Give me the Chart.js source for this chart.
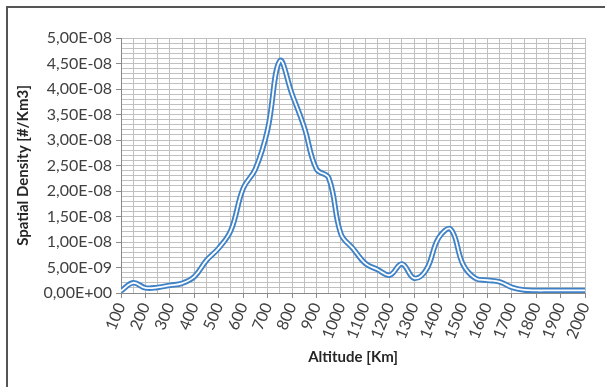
<!DOCTYPE html>
<html><head><meta charset="utf-8">
<script src="https://cdn.jsdelivr.net/npm/chart.js@4.4.1/dist/chart.umd.min.js"></script>
<style>html,body{margin:0;padding:0;background:#fff}#wrap{position:relative;width:605px;height:387px}</style>
</head><body><div id="wrap"><canvas id="c" width="605" height="387"></canvas></div>
<script>
const altitudes = [100,150,200,250,300,350,400,450,500,550,600,650,700,750,800,850,900,950,1000,1050,1100,1150,1200,1250,1300,1350,1400,1450,1500,1550,1600,1650,1700,1750,1800,1850,1900,1950,2000];
const densities = [0.4e-9,2.0e-9,1.0e-9,1.1e-9,1.5e-9,1.9e-9,3.2e-9,6.4e-9,8.8e-9,12.3e-9,20.5e-9,24.3e-9,32.0e-9,45.5e-9,39.0e-9,32.5e-9,24.3e-9,22.6e-9,11.6e-9,8.7e-9,5.8e-9,4.6e-9,3.5e-9,5.7e-9,2.9e-9,4.6e-9,10.8e-9,12.5e-9,5.6e-9,2.9e-9,2.5e-9,2.2e-9,1.1e-9,0.6e-9,0.5e-9,0.5e-9,0.5e-9,0.5e-9,0.5e-9];
const xTickLabels = ['100','200','300','400','500','600','700','800','900','1000','1100','1200','1300','1400','1500','1600','1700','1800','1900','2000'];
const yTickLabels = ['0,00E+00','5,00E-09','1,00E-08','1,50E-08','2,00E-08','2,50E-08','3,00E-08','3,50E-08','4,00E-08','4,50E-08','5,00E-08'];

const points = altitudes.map((a, i) => ({x: a, y: densities[i]}));
const FONT = 'Lato';
const TXT = '#404040';

const framePlugin = {
  id: 'frame',
  beforeDraw(chart) {
    const ctx = chart.ctx;
    ctx.save();
    ctx.fillStyle = '#fff';
    ctx.fillRect(0, 0, chart.width, chart.height);
    ctx.strokeStyle = '#555';
    ctx.lineWidth = 2;
    ctx.beginPath();
    ctx.moveTo(7, chart.height);
    ctx.lineTo(7, 7);
    ctx.lineTo(chart.width, 7);
    ctx.stroke();
    ctx.restore();
  }
};

new Chart(document.getElementById('c'), {
  type: 'line',
  data: {
    datasets: [
      {data: points, borderColor: '#ffffff', borderWidth: 1.8, tension: 0.4, pointRadius: 0, fill: false},
      {data: points, borderColor: '#3f82c8', borderWidth: 5.5, tension: 0.4, pointRadius: 0, fill: false}
    ]
  },
  options: {
    responsive: false,
    animation: false,
    devicePixelRatio: 1,
    layout: {padding: {left: 14, top: 38, right: 13, bottom: 21}},
    plugins: {legend: {display: false}, tooltip: {enabled: false}},
    scales: {
      x: {
        type: 'linear', min: 100, max: 2000,
        afterFit: s => { s.height = 73; },
        ticks: {
          stepSize: 50, autoSkip: false, minRotation: 68, maxRotation: 68, padding: 2,
          color: TXT, font: {family: FONT, size: 16},
          callback: v => (Math.round(v) % 100 === 0 ? xTickLabels[Math.round((v - 100) / 100)] : '')
        },
        grid: {
          color: '#c0c0c0', lineWidth: 1, tickLength: 5,
          tickColor: c => (c.tick && Math.round(c.tick.value) % 100 === 0 ? '#8a8a8a' : 'rgba(0,0,0,0)')
        },
        border: {color: '#8a8a8a'},
        title: {display: true, text: 'Altitude [Km]', color: '#262626', font: {family: FONT, size: 15, weight: 'bold'}, padding: 0}
      },
      y: {
        min: 0, max: 5e-8,
        afterFit: s => { s.width = 107; },
        ticks: {
          stepSize: 1e-9, autoSkip: false, padding: 4,
          color: TXT, font: {family: FONT, size: 16},
          callback: v => { const n = Math.round(v / 1e-9); return n % 5 === 0 ? yTickLabels[n / 5] : ''; }
        },
        grid: {
          color: '#c0c0c0', lineWidth: 1, tickLength: 5,
          tickColor: c => (c.tick && Math.round(c.tick.value / 1e-9) % 5 === 0 ? '#8a8a8a' : 'rgba(0,0,0,0)')
        },
        border: {color: '#8a8a8a'},
        title: {display: true, text: 'Spatial Density [#/Km3]', color: '#262626', font: {family: FONT, size: 15, weight: 'bold'}, padding: 0}
      }
    }
  },
  plugins: [framePlugin]
});
</script>
</body></html>
